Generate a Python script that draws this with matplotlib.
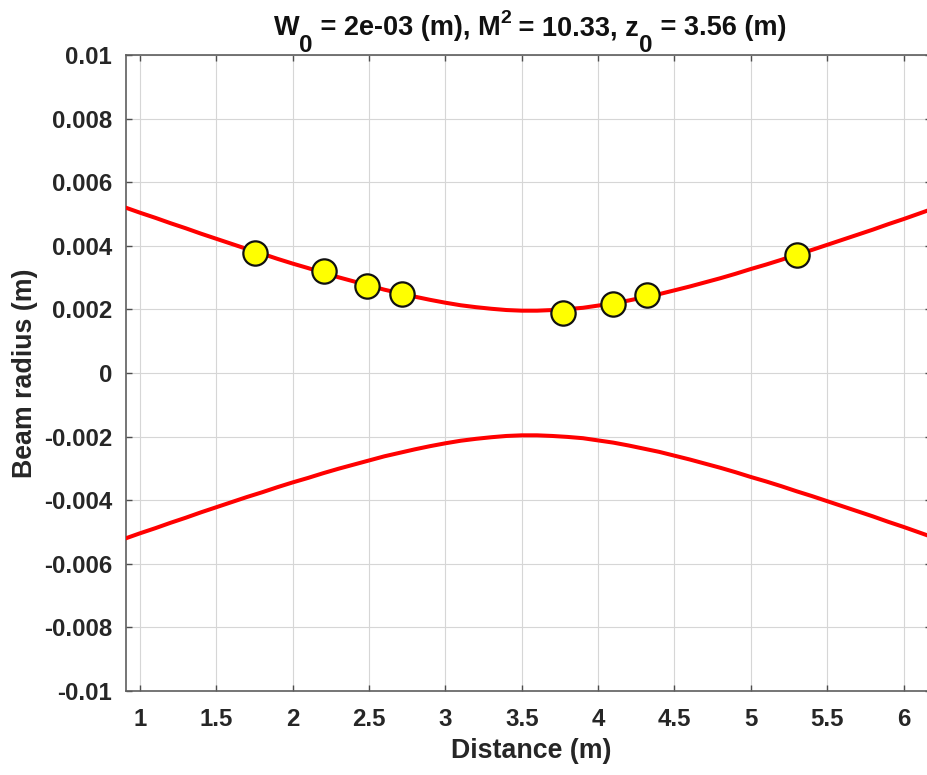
import matplotlib
matplotlib.use("Agg")
import matplotlib.pyplot as plt
import numpy as np

plt.rcParams['font.family'] = ['Liberation Sans', 'DejaVu Sans']

# ---- data ----
z_curve = [0.9, 1.0, 1.1, 1.2, 1.3, 1.4, 1.5, 1.6, 1.7, 1.8, 1.9, 2.0, 2.1, 2.2,
           2.3, 2.4, 2.5, 2.6, 2.7, 2.8, 2.9, 3.0, 3.1, 3.2, 3.3, 3.4, 3.5, 3.6,
           3.7, 3.8, 3.9, 4.0, 4.1, 4.2, 4.3, 4.4, 4.5, 4.6, 4.7, 4.8, 4.9, 5.0,
           5.1, 5.2, 5.3, 5.4, 5.5, 5.6, 5.7, 5.8, 5.9, 6.0, 6.1, 6.2, 6.3]
w_curve = [0.00521, 0.00504, 0.00488, 0.00471, 0.00455, 0.00438, 0.00422, 0.00406,
           0.00390, 0.00375, 0.00359, 0.00344, 0.00330, 0.00315, 0.00301, 0.00288,
           0.00275, 0.00262, 0.00251, 0.00240, 0.00230, 0.00221, 0.00213, 0.00207,
           0.00202, 0.00198, 0.00196, 0.00196, 0.00198, 0.00201, 0.00205, 0.00212,
           0.00219, 0.00228, 0.00238, 0.00248, 0.00260, 0.00272, 0.00285, 0.00298,
           0.00312, 0.00327, 0.00341, 0.00356, 0.00372, 0.00387, 0.00403, 0.00419,
           0.00435, 0.00451, 0.00468, 0.00484, 0.00501, 0.00518, 0.00535]
z_meas = [1.753, 2.207, 2.487, 2.716, 3.772, 4.095, 4.318, 5.30]
w_meas = [0.00377, 0.00322, 0.00275, 0.00250, 0.00189, 0.00217, 0.00246, 0.00372]

xticks = [1, 1.5, 2, 2.5, 3, 3.5, 4, 4.5, 5, 5.5, 6]
xticklabels = ['1', '1.5', '2', '2.5', '3', '3.5', '4', '4.5', '5', '5.5', '6']
yticks = [0.01, 0.008, 0.006, 0.004, 0.002, 0, -0.002, -0.004, -0.006, -0.008, -0.01]
yticklabels = ['0.01', '0.008', '0.006', '0.004', '0.002', '0', '-0.002', '-0.004',
               '-0.006', '-0.008', '-0.01']
title_pieces = [("W", "main"), ("0", "sub"), (" = 2e-03 (m), M", "main"), ("2", "sup"),
                (" = 10.33, z", "main"), ("0", "sub"), (" = 3.56 (m)", "main")]
xlabel = "Distance (m)"
ylabel = "Beam radius (m)"

# ---- figure ----
W, H = 928, 775
fig = plt.figure(figsize=(W / 100, H / 100), dpi=100)
ax = fig.add_axes([126 / W, (H - 691) / H, (931 - 126) / W, (691 - 55) / H])

ax.set_axisbelow(True)
ax.grid(True, color='#d6d6d6', linewidth=0.8)

zc = np.array(z_curve)
wc = np.array(w_curve)
ax.plot(zc, wc, color='#ff0000', linewidth=2.9, solid_joinstyle='round', zorder=3)
ax.plot(zc, -wc, color='#ff0000', linewidth=2.9, solid_joinstyle='round', zorder=3)
ax.plot(z_meas, w_meas, linestyle='none', marker='o', markersize=17.5,
        markerfacecolor='#ffff00', markeredgecolor='#111111', markeredgewidth=1.6, zorder=4)

ax.set_xlim(0.908, 6.18)
ax.set_ylim(-0.01, 0.01)
ax.set_xticks(xticks)
ax.set_xticklabels(xticklabels)
ax.set_yticks(yticks)
ax.set_yticklabels(yticklabels)

for sp in ax.spines.values():
    sp.set_color('#5e5e5e')
    sp.set_linewidth(1.2)

ax.tick_params(axis='both', which='both', direction='in', length=4.5, width=1.0,
               color='#4d4d4d', top=True, right=True, labelsize=17.3,
               labelcolor='#262626')
ax.tick_params(axis='x', pad=12)
ax.tick_params(axis='y', pad=10)
for lab in ax.get_xticklabels() + ax.get_yticklabels():
    lab.set_fontweight('bold')

ax.set_xlabel(xlabel, fontsize=19.3, fontweight='bold', color='#262626')
ax.set_ylabel(ylabel, fontsize=19.3, fontweight='bold', color='#262626')
ax.xaxis.set_label_coords(0.503, -0.074)
ax.yaxis.set_label_coords(-0.109, 0.5)

# ---- title built from pieces (sub/superscripts like the MATLAB tex rendering) ----
styles = {"main": (19.5, 0.0), "sub": (17.5, -16.7), "sup": (14, 12.0)}
fig.canvas.draw()
renderer = fig.canvas.get_renderer()
objs = []
widths = []
for s, kind in title_pieces:
    size, dy = styles[kind]
    t = fig.text(0, 0, s, fontsize=size, fontweight='bold', color='#111111',
                 ha='left', va='baseline')
    widths.append(t.get_window_extent(renderer).width)
    objs.append((t, dy))
total = sum(widths)
cx = 530.0
base = 35.0
x = cx - total / 2
for (t, dy), w in zip(objs, widths):
    t.set_position((x / W, (H - base + dy) / H))
    x += w

fig.savefig("out.png", dpi=100)
